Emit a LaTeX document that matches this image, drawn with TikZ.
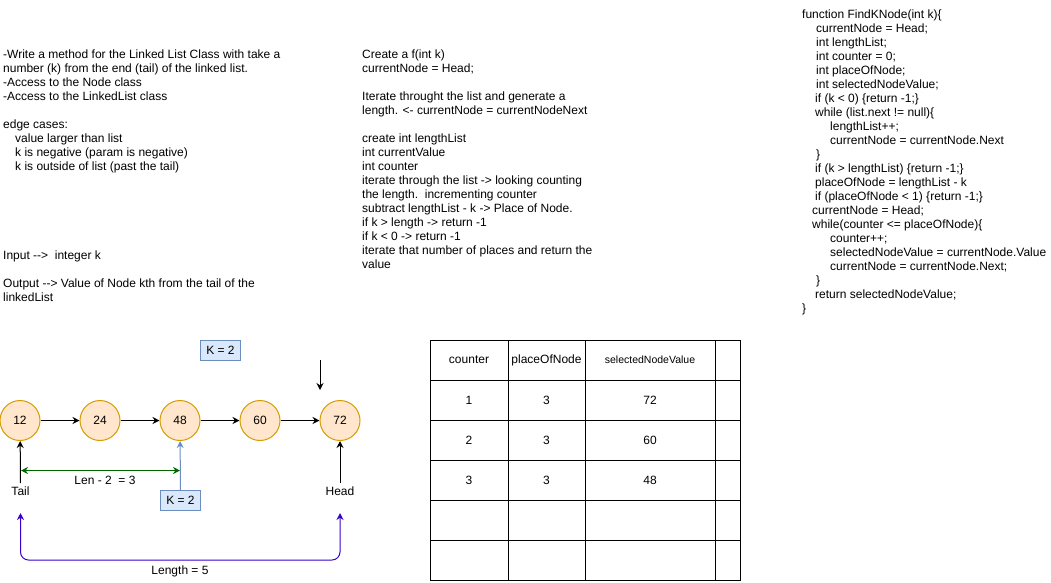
\documentclass[tikz,border=0pt]{standalone}
\usepackage{fontspec}
\setmainfont{Liberation Sans}[Ligatures=TeXOff]
\usetikzlibrary{arrows.meta}
\definecolor{nodefill}{HTML}{FFE6CC}
\definecolor{nodeline}{HTML}{D79B00}
\definecolor{kfill}{HTML}{DAE8FC}
\definecolor{kline}{HTML}{6C8EBF}
\definecolor{lengreen}{HTML}{006600}
\definecolor{lenpurple}{HTML}{3700CC}
\newcommand{\ind}[1]{\hspace*{#1pt}}

\begin{document}
\begin{tikzpicture}[x=1pt,y=-1pt,
  every node/.style={font=\fontsize{12}{14}\selectfont},
  txt/.style={anchor=north west,inner sep=0pt,align=left},
  listnode/.style={circle,draw=nodeline,fill=nodefill,line width=1pt,minimum size=40pt,inner sep=0pt},
  kbox/.style={draw=kline,fill=kfill,line width=1pt,minimum width=40pt,minimum height=20pt,inner sep=0pt},
  arr/.style={-{Stealth[length=7pt,width=7pt]},line width=1pt},
  cell/.style={inner sep=0pt}]
\useasboundingbox (0,0) rectangle (1051,582);

% notes
\node[txt] (task) at (3,48.7) {\strut-Write a method for the Linked List Class with take a\\
number (k) from the end (tail) of the linked list.\\
-Access to the Node class\\
-Access to the LinkedList class\\[14pt]
edge cases:\\
\ind{12}value larger than list\\
\ind{12}k is negative (param is negative)\\
\ind{12}k is outside of list (past the tail)};
\node[txt] (io) at (3,249.7) {\strut Input -->\ \ integer k\\[14pt]
Output --> Value of Node kth from the tail of the\\
linkedList};
\node[txt] (plan) at (362,48.7) {\strut Create a f(int k)\\
currentNode = Head;\\[14pt]
Iterate throught the list and generate a\\
length. <- currentNode = currentNodeNext\\[14pt]
create int lengthList\\
int currentValue\\
int counter\\
iterate through the list -> looking counting\\
the length.\ \ incrementing counter\\
subtract lengthList - k -> Place of Node.\\
if k > length -> return -1\\
if k < 0 -> return -1\\
iterate that number of places and return the\\
value};
\node[txt] (code) at (802,8.7) {\strut function FindKNode(int k)\{\\
\ind{14}currentNode = Head;\\
\ind{14}int lengthList;\\
\ind{14}int counter = 0;\\
\ind{14}int placeOfNode;\\
\ind{14}int selectedNodeValue;\\
\ind{13}if (k < 0) \{return -1;\}\\
\ind{13}while (list.next != null)\{\\
\ind{28}lengthList++;\\
\ind{28}currentNode = currentNode.Next\\
\ind{14}\}\\
\ind{13}if (k > lengthList) \{return -1;\}\\
\ind{13}placeOfNode = lengthList - k\\
\ind{13}if (placeOfNode < 1) \{return -1;\}\\
\ind{10}currentNode = Head;\\
\ind{10}while(counter <= placeOfNode)\{\\
\ind{28}counter++;\\
\ind{28}selectedNodeValue = currentNode.Value\\
\ind{28}currentNode = currentNode.Next;\\
\ind{14}\}\\
\ind{13}return selectedNodeValue;\\
\}};

% linked list
\node[listnode] (n12) at (20,420.5) {12};
\node[listnode] (n24) at (100,420.5) {24};
\node[listnode] (n48) at (180,420.5) {48};
\node[listnode] (n60) at (260,420.5) {60};
\node[listnode] (n72) at (340,420.5) {72};
\draw[arr] (n12) -- (n24);
\draw[arr] (n24) -- (n48);
\draw[arr] (n48) -- (n60);
\draw[arr] (n60) -- (n72);

\node[kbox] (ktop) at (220.5,350.5) {K = 2};
\node[kbox] (kbot) at (180.5,500.5) {K = 2};
\draw[arr,kline] (kbot) -- (n48);

\coordinate (pin) at (320,360);
\coordinate (pinend) at (320,390);
\draw[arr] (pin) -- (pinend);

\node (tail) at (20.5,491) {Tail};
\node (head) at (340,491) {Head};
\draw[arr] (tail.north) -- (n12);
\draw[arr] (head.north) -- (n72);

\coordinate (lenl) at (21,470.5);
\coordinate (lenr) at (180,470.5);
\draw[lengreen,line width=1pt,{Stealth[length=7pt,width=7pt]}-{Stealth[length=7pt,width=7pt]}] (lenl) -- (lenr);
\node (lenlbl) at (105,480.5) {Len - 2\ \ = 3};

\coordinate (alll) at (20.5,513);
\coordinate (allr) at (340,513);
\draw[lenpurple,line width=1pt,rounded corners=8pt,{Stealth[length=7pt,width=7pt]}-{Stealth[length=7pt,width=7pt]}] (alll) -- ++(0,47) -| (allr);
\node (alllbl) at (180,571) {Length = 5};

% table
\draw[line width=1pt] (430,340) rectangle (740,580);
\draw[line width=1pt] (430,380) -- (740,380);
\draw[line width=1pt] (430,420) -- (740,420);
\draw[line width=1pt] (430,460) -- (740,460);
\draw[line width=1pt] (430,500) -- (740,500);
\draw[line width=1pt] (430,540) -- (740,540);
\draw[line width=1pt] (508,340) -- (508,580);
\draw[line width=1pt] (585,340) -- (585,580);
\draw[line width=1pt] (715,340) -- (715,580);
\node[cell] (h1) at (469,360) {counter};
\node[cell] (h2) at (546.5,360) {placeOfNode};
\node[cell,font=\fontsize{10.5}{12}\selectfont] (h3) at (650,360) {selectedNodeValue};
\node[cell] (c11) at (469,400) {1};
\node[cell] (c12) at (546.5,400) {3};
\node[cell] (c13) at (650,400) {72};
\node[cell] (c21) at (469,440) {2};
\node[cell] (c22) at (546.5,440) {3};
\node[cell] (c23) at (650,440) {60};
\node[cell] (c31) at (469,480) {3};
\node[cell] (c32) at (546.5,480) {3};
\node[cell] (c33) at (650,480) {48};
\end{tikzpicture}
\end{document}
